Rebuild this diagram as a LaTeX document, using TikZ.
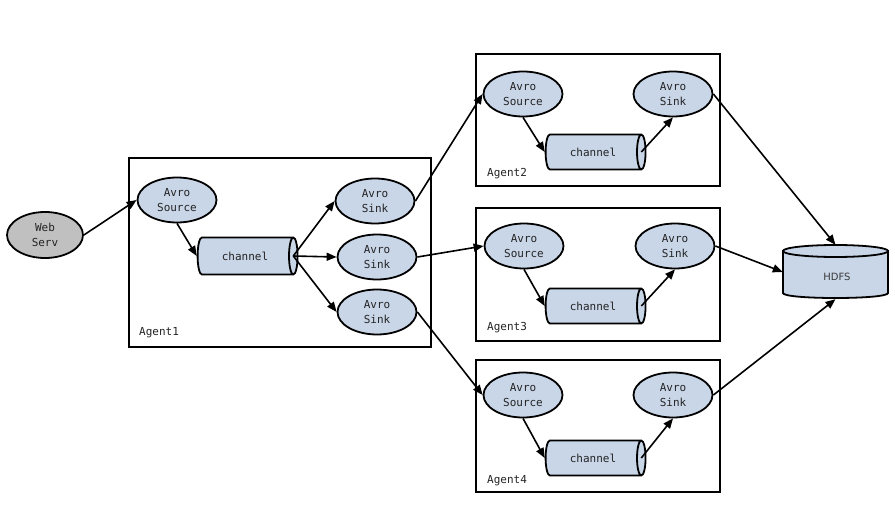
\documentclass[tikz,border=0pt]{standalone}
\usepackage{fontspec}
\newfontfamily\monof{DejaVu Sans Mono}
\newfontfamily\hdfsf{DejaVu Sans}
\usetikzlibrary{shapes.geometric,arrows.meta,calc}
\definecolor{nodeblue}{RGB}{201,214,232}
\definecolor{webgray}{RGB}{192,192,192}
\definecolor{txt}{RGB}{35,35,35}
\tikzset{
  ell/.style={ellipse, draw=black, line width=1.8pt, fill=nodeblue, inner sep=0pt,
    minimum width=79pt, minimum height=45pt, align=center, text=txt,
    font=\monof\fontsize{11}{15}\selectfont},
  chan/.style={cylinder, draw=black, line width=1.8pt, fill=nodeblue, inner sep=0pt,
    minimum height=100pt, minimum width=35pt, aspect=1.0, text=txt,
    font=\monof\fontsize{11}{15}\selectfont},
  agentbox/.style={draw=black, line width=1.8pt},
  lbl/.style={anchor=west, inner sep=0pt, text=txt, font=\monof\fontsize{11}{15}\selectfont},
  arr/.style={line width=1.6pt, -{Triangle[length=10pt,width=8pt]}},
}
\begin{document}
\begin{tikzpicture}[x=1pt,y=-1pt]
\useasboundingbox[fill=white] (0,0) rectangle (895,508);
% agent boxes
\draw[agentbox] (129,158) rectangle (431,347);
\draw[agentbox] (476,54) rectangle (720,186);
\draw[agentbox] (476,208) rectangle (720,341);
\draw[agentbox] (476,360) rectangle (720,492);
\node[lbl] (l1) at (139,333) {Agent1};
\node[lbl] (l2) at (487,174) {Agent2};
\node[lbl] (l3) at (487,328) {Agent3};
\node[lbl] (l4) at (487,481) {Agent4};
% web server
\node[ell, fill=webgray, minimum width=76pt, minimum height=46pt] (web) at (45,235) {Web\\Serv};
% agent 1
\node[ell] (s1) at (177,200) {Avro\\Source};
\node[chan, minimum width=37pt] (c1) at (245,256) {channel};
\node[ell] (k1) at (375,201) {Avro\\Sink};
\node[ell] (k2) at (377,257) {Avro\\Sink};
\node[ell] (k3) at (377,312) {Avro\\Sink};
% agent 2
\node[ell] (s2) at (523,94) {Avro\\Source};
\node[chan] (c2) at (593,152) {channel};
\node[ell] (t2) at (673,94) {Avro\\Sink};
% agent 3
\node[ell] (s3) at (524,246) {Avro\\Source};
\node[chan] (c3) at (593,306) {channel};
\node[ell] (t3) at (675,246) {Avro\\Sink};
% agent 4
\node[ell] (s4) at (523,395) {Avro\\Source};
\node[chan] (c4) at (593,458) {channel};
\node[ell] (t4) at (673,395) {Avro\\Sink};
% HDFS
\node[minimum width=105pt, minimum height=54pt, inner sep=0pt] (hdfs) at (835.5,272) {};
\draw[line width=1.8pt, fill=nodeblue] (783,251) -- (783,293) .. controls (783,299.67) and (888,299.67) .. (888,293) -- (888,251) -- cycle;
\draw[line width=1.8pt, fill=nodeblue] (835.5,251) ellipse [x radius=52.5, y radius=6];
\node[text=txt!90, font=\hdfsf\fontsize{10}{12}\selectfont] (hdfslabel) at (837,277) {HDFS};
% face centres of channels
\coordinate (f1) at ($(c1.before top)!.5!(c1.after top)$);
\coordinate (f2) at ($(c2.before top)!.5!(c2.after top)$);
\coordinate (f3) at ($(c3.before top)!.5!(c3.after top)$);
\coordinate (f4) at ($(c4.before top)!.5!(c4.after top)$);
% arrows
\draw[arr] (web.east) -- (s1.west);
\draw[arr] (s1.south) -- (c1.west);
\draw[arr] (f1) -- (k1.west);
\draw[arr] (f1) -- (k2.west);
\draw[arr] (f1) -- (k3.west);
\draw[arr] (k1.east) -- (s2.west);
\draw[arr] (k2.east) -- (s3.west);
\draw[arr] (k3.east) -- (s4.west);
\draw[arr] (s2.south) -- (c2.west);
\draw[arr] (f2) -- (t2.south);
\draw[arr] (s3.south) -- (c3.west);
\draw[arr] (f3) -- (t3.south);
\draw[arr] (s4.south) -- (c4.west);
\draw[arr] (f4) -- (t4.south);
\draw[arr] (t2.east) -- (hdfs.north);
\draw[arr] (t3.east) -- (hdfs.west);
\draw[arr] (t4.east) -- (hdfs.south);
\end{tikzpicture}
\end{document}
